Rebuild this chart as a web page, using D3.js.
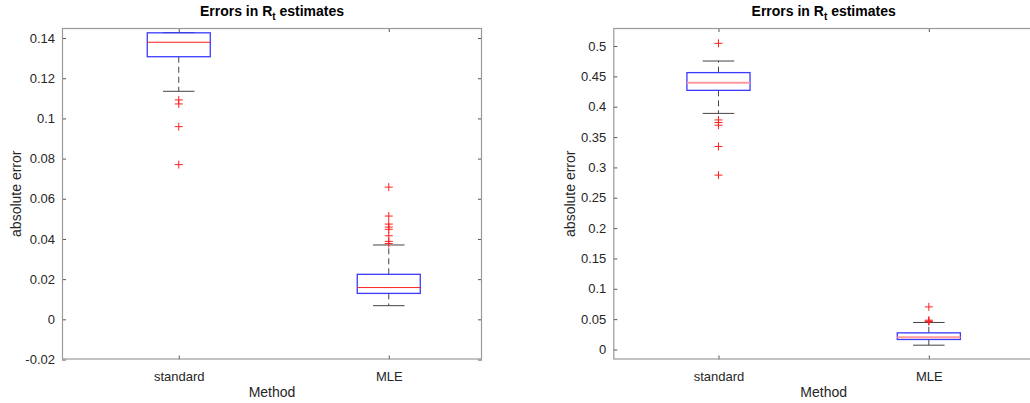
<!DOCTYPE html>
<html>
<head>
<meta charset="utf-8">
<script src="https://cdn.jsdelivr.net/npm/d3@7/dist/d3.min.js"></script>
<style>
  html, body { margin: 0; padding: 0; background: #fff; }
  svg { display: block; font-family: "Liberation Sans", Arial, Helvetica, sans-serif; }
</style>
</head>
<body>
<svg id="chart" width="1030" height="403"></svg>
<script>
// ---------- data ----------
const categories = ["standard", "MLE"];

// Panel 1 (left)
const p1Q1 = [0.1307, 0.0129];
const p1Median = [0.1379, 0.0158];
const p1Q3 = [0.1426, 0.0224];
const p1WhiskerLow = [0.1135, 0.0068];
const p1WhiskerHigh = [0.1427, 0.0370];
const p1OutliersStandard = [0.1092, 0.1072, 0.0959, 0.0770];
const p1OutliersMLE = [0.0658, 0.0514, 0.0474, 0.0459, 0.0448, 0.0416, 0.0388, 0.0377];
const p1YTicks = [-0.02, 0, 0.02, 0.04, 0.06, 0.08, 0.1, 0.12, 0.14];
const p1YDomain = [-0.02, 0.145];
const p1XDomain = [0.444, 2.444];

// Panel 2 (right)
const p2Q1 = [0.4270, 0.0165];
const p2Median = [0.4395, 0.0203];
const p2Q3 = [0.4562, 0.0274];
const p2WhiskerLow = [0.3890, 0.0071];
const p2WhiskerHigh = [0.4753, 0.0445];
const p2OutliersStandard = [0.5044, 0.3782, 0.3740, 0.3695, 0.3345, 0.2873];
const p2OutliersMLE = [0.0702, 0.0483, 0.0467, 0.0460];
const p2YTicks = [0, 0.05, 0.1, 0.15, 0.2, 0.25, 0.3, 0.35, 0.4, 0.45, 0.5];
const p2YDomain = [-0.0165, 0.5297];
const p2XDomain = [0.5, 2.5];

const titleMain = "Errors in R";
const titleSub = "t";
const titleTail = " estimates";
const yLabel = "absolute error";
const xLabel = "Method";

// ---------- drawing ----------
const svg = d3.select("#chart");
const fmt = v => String(Math.round(v * 10000) / 10000);

function panel(cfg) {
  const { left, right, top, bottom } = cfg;
  const x = d3.scaleLinear().domain(cfg.xDomain).range([left, right]);
  const y = d3.scaleLinear().domain(cfg.yDomain).range([bottom, top]);
  const g = svg.append("g");
  const clipId = "clip" + cfg.id;
  g.append("clipPath").attr("id", clipId)
    .append("rect").attr("x", left).attr("y", top).attr("width", right - left).attr("height", bottom - top);

  const axisColor = "#9a9a9a";
  const textColor = "#262626";

  // axes
  const yAxisL = d3.axisLeft(y).tickValues(cfg.yTicks).tickSize(-4).tickPadding(7).tickFormat(fmt);
  const yAxisR = d3.axisRight(y).tickValues(cfg.yTicks).tickSize(-4).tickFormat("");
  const xPos = [1, 2];
  const xAxisB = d3.axisBottom(x).tickValues(xPos).tickSize(-4).tickPadding(12).tickFormat((d, i) => categories[i]);
  const xAxisT = d3.axisTop(x).tickValues(xPos).tickSize(-4).tickFormat("");

  function styleAxis(sel) {
    sel.select(".domain").remove();
    sel.selectAll(".tick line").attr("stroke", "#555");
    sel.selectAll(".tick text").attr("fill", textColor).style("font-size", "13px");
  }
  g.append("g").attr("transform", `translate(${left},0)`).call(yAxisL).call(styleAxis);
  g.append("g").attr("transform", `translate(${right},0)`).call(yAxisR).call(styleAxis);
  g.append("g").attr("transform", `translate(0,${bottom})`).call(xAxisB).call(styleAxis);
  g.append("g").attr("transform", `translate(0,${top})`).call(xAxisT).call(styleAxis);

  g.append("rect").attr("x", left + 0.5).attr("y", top + 0.5)
    .attr("width", right - left - 1).attr("height", bottom - top - 1)
    .attr("fill", "none").attr("stroke", axisColor).attr("stroke-width", 1.2);

  // boxes
  const marks = g.append("g").attr("clip-path", `url(#${clipId})`);
  const boxW = 0.3, capW = 0.15;
  categories.forEach((c, i) => {
    const cx = xPos[i];
    // whiskers
    marks.append("line").attr("x1", x(cx)).attr("x2", x(cx))
      .attr("y1", y(cfg.q3[i])).attr("y2", y(cfg.wHigh[i]))
      .attr("stroke", "#444").attr("stroke-dasharray", "6,4");
    marks.append("line").attr("x1", x(cx)).attr("x2", x(cx))
      .attr("y1", y(cfg.q1[i])).attr("y2", y(cfg.wLow[i]))
      .attr("stroke", "#444").attr("stroke-dasharray", "6,4");
    // caps
    [cfg.wHigh[i], cfg.wLow[i]].forEach(w => {
      marks.append("line").attr("x1", x(cx - capW / 2)).attr("x2", x(cx + capW / 2))
        .attr("y1", y(w)).attr("y2", y(w)).attr("stroke", "#444");
    });
    // box
    marks.append("rect").attr("x", x(cx - boxW / 2)).attr("width", x(cx + boxW / 2) - x(cx - boxW / 2))
      .attr("y", y(cfg.q3[i])).attr("height", y(cfg.q1[i]) - y(cfg.q3[i]))
      .attr("fill", "none").attr("stroke", "#3a3aff").attr("stroke-width", 1.3);
    // median
    marks.append("line").attr("x1", x(cx - boxW / 2)).attr("x2", x(cx + boxW / 2))
      .attr("y1", y(cfg.median[i])).attr("y2", y(cfg.median[i]))
      .attr("stroke", cfg.medianColor).attr("stroke-width", cfg.medianWidth);
    // outliers
    const outs = cfg.outliers[i];
    const s = 4;
    outs.forEach(o => {
      const px = x(cx), py = y(o);
      marks.append("path").attr("d", `M${px - s},${py}H${px + s}M${px},${py - s}V${py + s}`)
        .attr("stroke", "#ff2020").attr("stroke-width", 1).attr("fill", "none");
    });
  });

  // title
  const cxm = (left + right) / 2;
  const t = g.append("text").attr("x", cxm).attr("y", 16).attr("text-anchor", "middle")
    .attr("fill", "#000").style("font-size", "14px").style("font-weight", "bold");
  t.append("tspan").text(titleMain);
  t.append("tspan").attr("dy", 4).style("font-size", "10px").text(titleSub);
  t.append("tspan").attr("dy", -4).text(titleTail);

  // labels
  g.append("text").attr("transform", `translate(${cfg.yLabelX},${(top + bottom) / 2}) rotate(-90)`)
    .attr("text-anchor", "middle").attr("fill", textColor).style("font-size", "14px").text(yLabel);
  g.append("text").attr("x", cxm).attr("y", 397).attr("text-anchor", "middle")
    .attr("fill", textColor).style("font-size", "14px").text(xLabel);
}

panel({
  id: 1, left: 62, right: 482, top: 28, bottom: 359.5,
  xDomain: p1XDomain, yDomain: p1YDomain, yTicks: p1YTicks,
  q1: p1Q1, median: p1Median, q3: p1Q3, wLow: p1WhiskerLow, wHigh: p1WhiskerHigh,
  outliers: [p1OutliersStandard, p1OutliersMLE],
  medianColor: "#ff2020", medianWidth: 1, yLabelX: 21
});
panel({
  id: 2, left: 613.3, right: 1034, top: 28, bottom: 359.5,
  xDomain: p2XDomain, yDomain: p2YDomain, yTicks: p2YTicks,
  q1: p2Q1, median: p2Median, q3: p2Q3, wLow: p2WhiskerLow, wHigh: p2WhiskerHigh,
  outliers: [p2OutliersStandard, p2OutliersMLE],
  medianColor: "#ff9a9a", medianWidth: 2, yLabelX: 575
});
</script>
</body>
</html>
